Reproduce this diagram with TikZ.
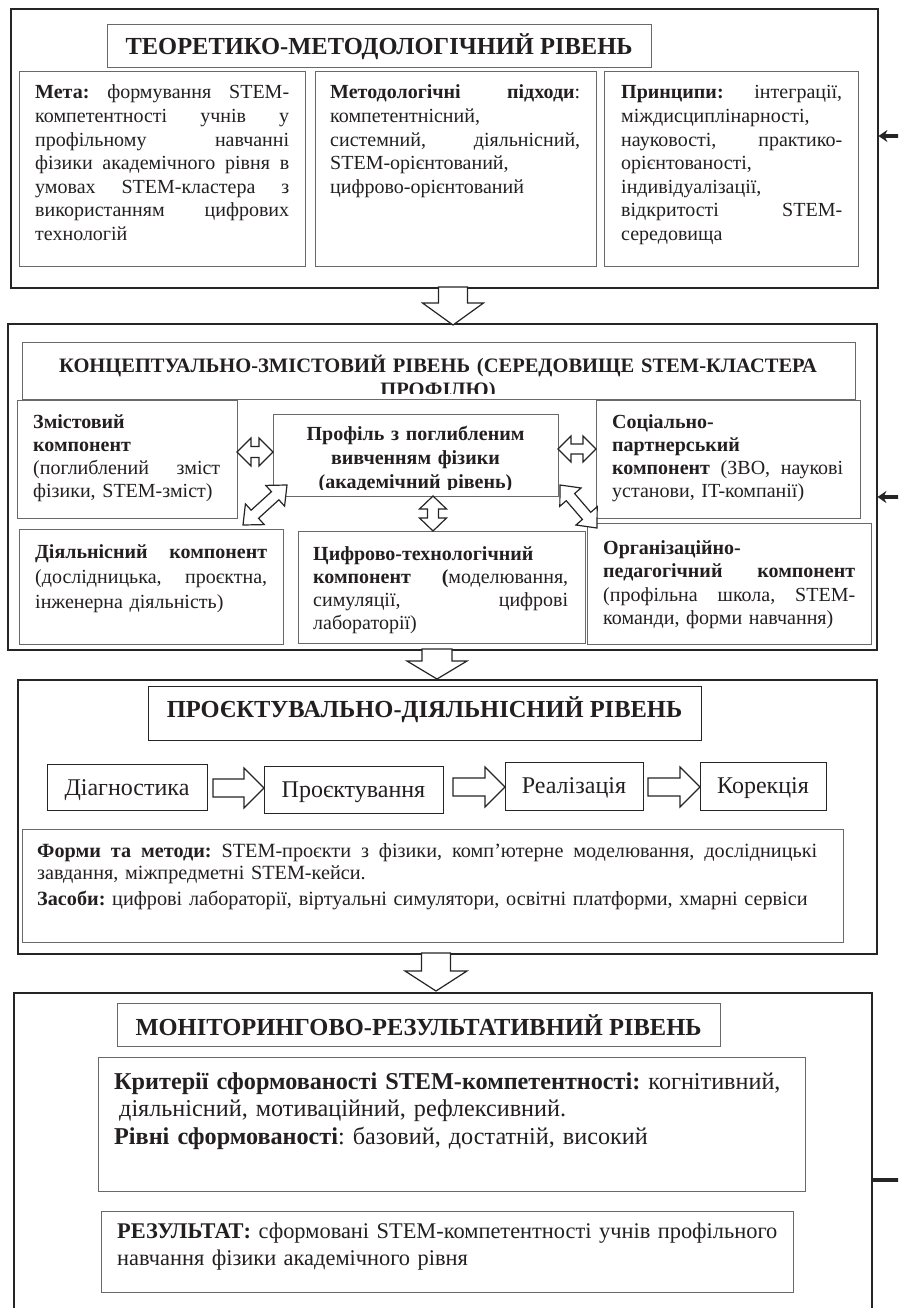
\documentclass[tikz,border=0pt]{standalone}
\usepackage{fontspec}
\setmainfont{Liberation Serif}
\usetikzlibrary{calc,arrows.meta}
\definecolor{ink}{RGB}{35,31,32}
\definecolor{frame}{RGB}{38,36,37}
\definecolor{grayline}{RGB}{105,105,105}
\frenchspacing
\newlength\bw
\newcommand\J[1]{\makebox[\bw][s]{\spaceskip=.25em plus 1fil\xspaceskip=\spaceskip #1}}
\newcommand\fs[2]{\fontsize{#1}{#2}\selectfont}
\newcommand\bx[6]{\node[#1,anchor=north west,minimum width={#4-#2},minimum height={#5-#3},inner sep=0pt] (#6) at (#2,#3) {};}
% single hollow block arrow: tail A, tip B, shaft half width, head half width, head length
\newcommand\sarr[5]{%
  \coordinate (hc) at ($(#2)!#5!(#1)$);
  \draw[blk] ($(#1)!#3!90:(#2)$) -- ($(hc)!#3!-90:(#1)$) -- ($(hc)!#4!-90:(#1)$) -- (#2)
    -- ($(hc)!#4!90:(#1)$) -- ($(hc)!#3!90:(#1)$) -- ($(#1)!#3!-90:(#2)$) -- cycle;}
% double hollow block arrow between A and B
\newcommand\dblarr[5]{%
  \coordinate (ha) at ($(#1)!#5!(#2)$);
  \coordinate (hb) at ($(#2)!#5!(#1)$);
  \draw[blk] (#1) -- ($(ha)!#4!90:(#2)$) -- ($(ha)!#3!90:(#2)$) -- ($(hb)!#3!-90:(#1)$)
    -- ($(hb)!#4!-90:(#1)$) -- (#2) -- ($(hb)!#4!90:(#1)$) -- ($(hb)!#3!90:(#1)$)
    -- ($(ha)!#3!-90:(#2)$) -- ($(ha)!#4!-90:(#2)$) -- cycle;}
\begin{document}
\begin{tikzpicture}[x=1pt,y=-1pt,line join=miter,
  outer/.style={draw=frame,line width=2.4pt},
  inner/.style={draw=grayline,line width=1pt},
  tbox/.style={draw=grayline,line width=1.1pt},
  stepbox/.style={draw=frame,line width=1.2pt},
  blk/.style={draw=frame,line width=1.2pt,fill=white},
  fbline/.style={draw=frame,line width=3.6pt},
  txt/.style={inner sep=0pt,anchor=base west,align=left,text=ink},
  ctxt/.style={inner sep=0pt,anchor=base,align=center,text=ink},
  title/.style={ctxt,font=\fs{24.5}{28}\bfseries}]
\useasboundingbox (0,0) rectangle (898,1308);
\clip (0,0) rectangle (898,1308);

% ---------- Level 1 ----------
\bx{outer}{10}{8}{877}{287}{L1}
\bx{tbox}{107}{24}{651}{67}{T1}
\bx{inner}{19}{71}{305}{266}{A1}
\bx{inner}{315}{71}{596}{266}{A2}
\bx{inner}{604}{71}{858}{266}{A3}
\node[title] (T1t) at (379,55) {ТЕОРЕТИКО-МЕТОДОЛОГІЧНИЙ РІВЕНЬ};
\node[txt,text width=254,font=\fs{20}{23.6}] (A1t) at (35,99) {\setlength\bw{254pt}%
\J{\textbf{Мета:} формування STEM-}\\
\J{компетентності учнів у}\\
\J{профільному навчанні}\\
\J{фізики академічного рівня в}\\
\J{умовах STEM-кластера з}\\
\J{використанням цифрових}\\
технологій};
\node[txt,text width=250,font=\fs{20}{23.6}] (A2t) at (330,99) {\setlength\bw{250pt}%
\J{\textbf{Методологічні підходи}:}\\
компетентнісний,\\
\J{системний, діяльнісний,}\\
STEM-орієнтований,\\
цифрово-орієнтований};
\node[txt,text width=221,font=\fs{20}{23.6}] (A3t) at (621,99) {\setlength\bw{221pt}%
\J{\textbf{Принципи:} інтеграції,}\\
міждисциплінарності,\\
\J{науковості, практико-}\\
орієнтованості,\\
індивідуалізації,\\
\J{відкритості STEM-}\\
середовища};

% ---------- Level 2 ----------
\bx{outer}{7}{323}{876}{649}{L2}
\bx{tbox}{22}{342}{855}{399}{T2}
\begin{scope}
\clip (22,342) rectangle (855,393);
\node[ctxt,text width=833,font=\fs{20.5}{24}\bfseries] (T2t) at (438,372) {КОНЦЕПТУАЛЬНО-ЗМІСТОВИЙ РІВЕНЬ (СЕРЕДОВИЩЕ STEM-КЛАСТЕРА\\ПРОФІЛЮ)};
\end{scope}
\bx{inner,fill=white}{17}{400}{237}{518}{Zm}
\bx{inner,fill=white}{273}{414}{558}{496}{Pr}
\bx{inner,fill=white}{596}{400}{860}{518}{So}
\bx{inner,fill=white}{19}{529}{283}{644}{Di}
\bx{inner,fill=white}{298}{531}{585}{643}{Cy}
\bx{inner,fill=white}{587}{523}{871}{644}{Or}
\node[txt,text width=187,font=\fs{20}{23.3}] (Zmt) at (33,428) {\setlength\bw{187pt}%
\textbf{Змістовий}\\
\textbf{компонент}\\
\J{(поглиблений зміст}\\
фізики, STEM-зміст)};
\begin{scope}
\clip (273,414) rectangle (558,489);
\node[ctxt,text width=285,font=\fs{20}{24}\bfseries] (Prt) at (415.5,440) {%
Профіль з поглибленим\\вивченням фізики\\(академічний рівень)};
\end{scope}
\node[txt,text width=231,font=\fs{20}{23.3}] (Sot) at (612,428) {\setlength\bw{231pt}%
\textbf{Соціально-}\\
\textbf{партнерський}\\
\J{\textbf{компонент} (ЗВО, наукові}\\
установи, IT-компанії)};
\node[txt,text width=232,font=\fs{20}{25}] (Dit) at (35,558) {\setlength\bw{232pt}%
\J{\textbf{Діяльнісний компонент}}\\
\J{(дослідницька, проєктна,}\\
інженерна діяльність)};
\node[txt,text width=255,font=\fs{20}{23}] (Cyt) at (313,560) {\setlength\bw{255pt}%
\textbf{Цифрово-технологічний}\\
\J{\textbf{компонент} \textbf{(}моделювання,}\\
\J{симуляції, цифрові}\\
лабораторії)};
\node[txt,text width=252,font=\fs{20}{23.5}] (Ort) at (603,554) {\setlength\bw{252pt}%
\textbf{Організаційно-}\\
\J{\textbf{педагогічний компонент}}\\
\J{(профільна школа, STEM-}\\
команди, форми навчання)};
\coordinate (h1a) at (237,452); \coordinate (h1b) at (273,452);
\dblarr{h1a}{h1b}{5.5pt}{14pt}{14pt}
\coordinate (h2a) at (558,449); \coordinate (h2b) at (596,449);
\dblarr{h2a}{h2b}{5pt}{13pt}{13pt}
\coordinate (v1a) at (433,496); \coordinate (v1b) at (433,531);
\dblarr{v1a}{v1b}{5.5pt}{13.5pt}{13pt}
\coordinate (g1a) at (287,485); \coordinate (g1b) at (243,525);
\dblarr{g1a}{g1b}{5.5pt}{14pt}{16pt}
\coordinate (g2a) at (560,485); \coordinate (g2b) at (597,528);
\dblarr{g2a}{g2b}{5.5pt}{14pt}{16pt}

% ---------- Level 3 ----------
\bx{outer}{17}{679}{876}{953}{L3}
\bx{tbox,draw=frame}{148}{686}{701}{740}{T3}
\node[title] (T3t) at (424.5,717) {ПРОЄКТУВАЛЬНО-ДІЯЛЬНІСНИЙ РІВЕНЬ};
\bx{stepbox}{47}{764}{207}{810}{S1}
\bx{stepbox}{264}{766}{443}{813}{S2}
\bx{stepbox}{505}{762}{643}{810}{S3}
\bx{stepbox}{700}{762}{826}{810}{S4}
\node[ctxt,font=\fs{24}{28}] (S1t) at (127,795) {Діагностика};
\node[ctxt,font=\fs{24}{28}] (S2t) at (353.5,797) {Проєктування};
\node[ctxt,font=\fs{24}{28}] (S3t) at (574,793) {Реалізація};
\node[ctxt,font=\fs{24}{28}] (S4t) at (763,793) {Корекція};
\coordinate (r1s) at (213,788); \coordinate (r1e) at (S2.west |- r1s);
\sarr{r1s}{r1e}{9pt}{20pt}{20pt}
\coordinate (r2s) at (453,787); \coordinate (r2e) at (S3.west |- r2s);
\sarr{r2s}{r2e}{9pt}{20pt}{20pt}
\coordinate (r3s) at (648,787); \coordinate (r3e) at (S4.west |- r3s);
\sarr{r3s}{r3e}{9pt}{20pt}{20pt}
\bx{inner}{22}{829}{843}{942}{Fm}
\node[txt,text width=780,font=\fs{20.2}{22}] (Fmt) at (37,857) {\setlength\bw{780pt}%
\J{\textbf{Форми та методи:} STEM-проєкти з фізики, комп’ютерне моделювання, дослідницькі}\\
завдання, міжпредметні STEM-кейси.\\[4pt]
\textbf{Засоби:} цифрові лабораторії, віртуальні симулятори, освітні платформи, хмарні сервіси};

% ---------- Level 4 ----------
\bx{outer}{13}{992}{871}{1340}{L4}
\bx{tbox}{117}{1003}{720}{1046}{T4}
\node[title] (T4t) at (418.5,1035) {МОНІТОРИНГОВО-РЕЗУЛЬТАТИВНИЙ РІВЕНЬ};
\bx{inner}{98}{1057}{805}{1191}{Kr}
\bx{inner}{101}{1211}{793}{1292}{Rz}
\node[txt,text width=690,font=\fs{24.2}{27.5}] (Krt) at (114,1089) {%
\textbf{Критерії сформованості STEM-компетентності:} когнітивний,\\
\hspace*{5pt}діяльнісний, мотиваційний, рефлексивний.\\
\textbf{Рівні сформованості}: базовий, достатній, високий};
\node[txt,text width=680,font=\fs{22.4}{27}] (Rzt) at (117,1238) {%
\textbf{РЕЗУЛЬТАТ:} сформовані STEM-компетентності учнів профільного\\
навчання фізики академічного рівня};

% ---------- arrows between levels ----------
\coordinate (d1s) at (453,287); \coordinate (d1e) at (453,325);
\sarr{d1s}{d1e}{14.5pt}{30.5pt}{22pt}
\coordinate (d2s) at (437,649); \coordinate (d2e) at (437,679);
\sarr{d2s}{d2e}{15pt}{30pt}{18pt}
\coordinate (d3s) at (436,953); \coordinate (d3e) at (436,991);
\sarr{d3s}{d3e}{14.5pt}{31pt}{20pt}

% ---------- feedback line ----------
\coordinate (f1) at (905,136);
\draw[fbline,-{Stealth[length=9pt,width=12pt]},shorten >=-1pt] (f1) -- (L1.east |- f1);
\coordinate (f2) at (905,497);
\draw[fbline,-{Stealth[length=9pt,width=12pt]},shorten >=-1pt] (f2) -- (L2.east |- f2);
\coordinate (f3) at (905,1180);
\draw[fbline] (f3) -- (L4.east |- f3);
\end{tikzpicture}
\end{document}
